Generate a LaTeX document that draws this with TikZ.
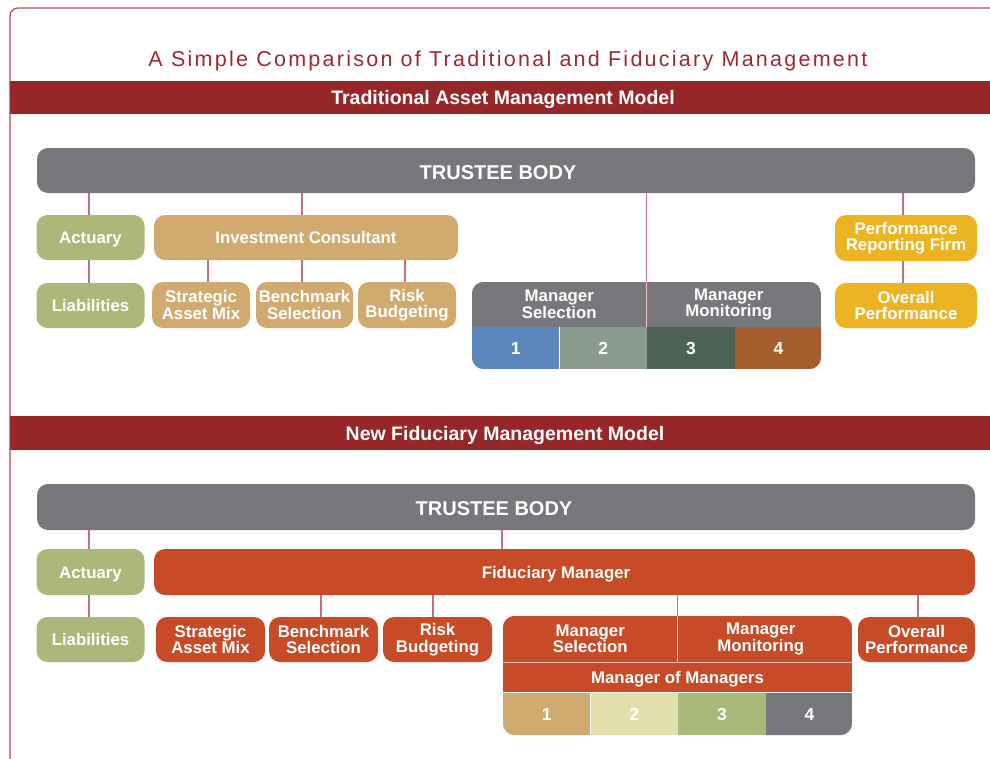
\documentclass[tikz,border=0pt]{standalone}
\usepackage{fontspec}
\setmainfont{Liberation Sans}
\definecolor{framec}{RGB}{185,75,80}
\definecolor{barred}{RGB}{150,38,40}
\definecolor{titlered}{RGB}{160,40,45}
\definecolor{tgray}{RGB}{119,120,123}
\definecolor{sage}{RGB}{171,184,122}
\definecolor{tan}{RGB}{208,170,111}
\definecolor{gold}{RGB}{236,180,35}
\definecolor{rust}{RGB}{200,75,39}
\definecolor{linkc}{RGB}{194,114,122}
\definecolor{divc}{RGB}{236,190,190}
\definecolor{cblue}{RGB}{91,135,188}
\definecolor{cgreygreen}{RGB}{138,154,141}
\definecolor{cdkgreen}{RGB}{77,99,87}
\definecolor{cbrown}{RGB}{166,94,46}
\definecolor{ctan}{RGB}{207,171,112}
\definecolor{ccream}{RGB}{228,223,174}
\definecolor{cgreen}{RGB}{170,184,121}
\begin{document}
\begin{tikzpicture}[x=1pt,y=-1pt,
  lbl/.style={text=white, font=\bfseries\fontsize{16.8}{16.5}\selectfont},
  box/.style={lbl, rounded corners=11pt, inner sep=0pt, align=center},
  oneline/.style={text height=12pt, text depth=0pt},
  cell/.style={lbl, rectangle, inner sep=0pt, align=center},
  numcell/.style={cell, oneline, minimum width=87.25pt, font=\bfseries\fontsize{17.5}{17.5}\selectfont},
  bartext/.style={text=white, font=\bfseries\fontsize{19.5}{19.5}\selectfont, inner sep=0pt, oneline, text height=14pt},
  bigtext/.style={text=white, font=\bfseries\fontsize{20}{20}\selectfont, inner sep=0pt, oneline, text height=14.3pt},
  link/.style={draw=linkc, line width=1.2pt},
  divider/.style={draw=divc, line width=1pt},
]
\useasboundingbox (0,0) rectangle (990,758);
\clip (0,0) rectangle (990,758);
\fill[white] (0,0) rectangle (990,758);

% outer frame
\draw[framec, line width=1.3pt, rounded corners=8pt] (10,8) rectangle (1030,800);

% title
\node[text=titlered, font=\fontsize{21.5}{24}\selectfont, inner sep=0pt, text height=15.5pt, text depth=0pt] (title) at (508,58.5)
  {\addfontfeature{LetterSpace=10.5}A Simple Comparison of Traditional and Fiduciary Management};

% section bars
\fill[barred] (10,80.5) rectangle (990,113.5);
\node[bartext] (head1) at (503,97) {Traditional Asset Management Model};
\fill[barred] (10,416) rectangle (990,450);
\node[bartext] (head2) at (505,433) {New Fiduciary Management Model};

% ---------- traditional model ----------
\node[box, fill=tgray, minimum width=938pt, minimum height=45pt] (tb1) at (506,170.5) {};
\node[bigtext] (tb1t) at (498,172.5) {TRUSTEE BODY};

\node[box, oneline, fill=sage, minimum width=108pt, minimum height=45pt] (act1) at (90.5,237.5) {Actuary};
\node[box, oneline, fill=sage, minimum width=108pt, minimum height=45pt] (lia1) at (90.5,305.5) {Liabilities};
\node[box, oneline, fill=tan, minimum width=304pt, minimum height=45pt] (ic) at (306,237.5) {Investment Consultant};
\node[box, fill=tan, minimum width=98pt, minimum height=46pt] (sam1) at (201,305) {Strategic\\Asset Mix};
\node[box, fill=tan, minimum width=97pt, minimum height=46pt] (bs1) at (304.5,305) {Benchmark\\Selection};
\node[box, fill=tan, minimum width=98pt, minimum height=46pt] (rb1) at (407,305) {Risk\\Budgeting};
\node[box, fill=gold, minimum width=142pt, minimum height=46pt] (prf) at (906,238) {Performance\\Reporting Firm};
\node[box, fill=gold, minimum width=142pt, minimum height=45pt] (op1) at (906,305.5) {Overall\\Performance};

% manager block (traditional)
\node[minimum width=349pt, minimum height=87pt, inner sep=0pt] (mb1) at (646.5,325.5) {};
\begin{scope}
  \clip[rounded corners=12pt] (mb1.north west) rectangle (mb1.south east);
  \node[cell, fill=tgray, minimum width=174.5pt, minimum height=45pt, anchor=north west] (msel1) at (mb1.north west) {};
  \node[cell, fill=tgray, minimum width=174.5pt, minimum height=45pt, anchor=north east] (mmon1) at (mb1.north east) {};
  \node[numcell, fill=cblue, minimum height=42pt, anchor=north west] (a1) at (msel1.south west) {1};
  \node[numcell, fill=cgreygreen, minimum height=42pt, anchor=north west] (a2) at (a1.north east) {2};
  \node[numcell, fill=cdkgreen, minimum height=42pt, anchor=north west] (a3) at (a2.north east) {3};
  \node[numcell, fill=cbrown, minimum height=42pt, anchor=north west] (a4) at (a3.north east) {4};
\end{scope}
\node[cell] (msel1t) at (msel1.center) {Manager\\Selection};
\node[cell] (mmon1t) at ([xshift=-5pt]mmon1.center) {Manager\\Monitoring};
\draw[divider] (msel1.north east) -- (msel1.south east);

% connectors (traditional)
\draw[link] (tb1.south -| 89,0) -- (act1.north -| 89,0);
\draw[link] (act1.south -| 89,0) -- (lia1.north -| 89,0);
\draw[link] (tb1.south -| 302,0) -- (ic.north -| 302,0);
\draw[link] (ic.south -| 208,0) -- (sam1.north -| 208,0);
\draw[link] (ic.south -| 302,0) -- (bs1.north -| 302,0);
\draw[link] (ic.south -| 405,0) -- (rb1.north -| 405,0);
\draw[link] (tb1.south -| mb1.north) -- (mb1.north);
\draw[link] (tb1.south -| 903,0) -- (prf.north -| 903,0);
\draw[link] (prf.south -| 903,0) -- (op1.north -| 903,0);

% ---------- fiduciary model ----------
\node[box, fill=tgray, minimum width=938pt, minimum height=46pt] (tb2) at (506,507) {};
\node[bigtext] (tb2t) at (494,508) {TRUSTEE BODY};

\node[box, oneline, fill=sage, minimum width=108pt, minimum height=46pt] (act2) at (90.5,572) {Actuary};
\node[box, oneline, fill=sage, minimum width=108pt, minimum height=45pt] (lia2) at (90.5,639.5) {Liabilities};
\node[box, fill=rust, minimum width=821pt, minimum height=46pt] (fm) at (564.5,572) {};
\node[cell, oneline] (fmt) at (556,572) {Fiduciary Manager};
\node[box, fill=rust, minimum width=109pt, minimum height=45pt] (sam2) at (210.5,639.5) {Strategic\\Asset Mix};
\node[box, fill=rust, minimum width=109pt, minimum height=45pt] (bs2) at (323.5,639.5) {Benchmark\\Selection};
\node[box, fill=rust, minimum width=109pt, minimum height=45pt] (rb2) at (437.5,639.5) {Risk\\Budgeting};
\node[box, fill=rust, minimum width=117pt, minimum height=45pt] (op2) at (916.5,639.5) {Overall\\Performance};

% manager block (fiduciary)
\node[minimum width=349pt, minimum height=119pt, inner sep=0pt] (mb2) at (677.5,675.5) {};
\begin{scope}
  \clip[rounded corners=12pt] (mb2.north west) rectangle (mb2.south east);
  \node[cell, fill=rust, minimum width=174.5pt, minimum height=46pt, anchor=north west] (msel2) at (mb2.north west) {};
  \node[cell, fill=rust, minimum width=174.5pt, minimum height=46pt, anchor=north east] (mmon2) at (mb2.north east) {};
  \node[cell, oneline, fill=rust, minimum width=349pt, minimum height=30pt, anchor=north west] (mom) at (msel2.south west) {Manager of Managers};
  \node[numcell, fill=ctan, minimum height=43pt, anchor=north west] (b1) at (mom.south west) {1};
  \node[numcell, fill=ccream, minimum height=43pt, anchor=north west] (b2) at (b1.north east) {2};
  \node[numcell, fill=cgreen, minimum height=43pt, anchor=north west] (b3) at (b2.north east) {3};
  \node[numcell, fill=tgray, minimum height=43pt, anchor=north west] (b4) at (b3.north east) {4};
\end{scope}
\node[cell] (msel2t) at (msel2.center) {Manager\\Selection};
\node[cell] (mmon2t) at ([xshift=-4pt]mmon2.center) {Manager\\Monitoring};
\draw[divider] (msel2.north east) -- (msel2.south east);
\draw[divider] (mom.north west) -- (mom.north east);

% connectors (fiduciary)
\draw[link] (tb2.south -| 89,0) -- (act2.north -| 89,0);
\draw[link] (act2.south -| 89,0) -- (lia2.north -| 89,0);
\draw[link] (tb2.south -| 502,0) -- (fm.north -| 502,0);
\draw[link] (fm.south -| 321,0) -- (bs2.north -| 321,0);
\draw[link] (fm.south -| 433,0) -- (rb2.north -| 433,0);
\draw[link] (fm.south -| mb2.north) -- (mb2.north);
\draw[link] (fm.south -| 918,0) -- (op2.north -| 918,0);
\end{tikzpicture}
\end{document}
